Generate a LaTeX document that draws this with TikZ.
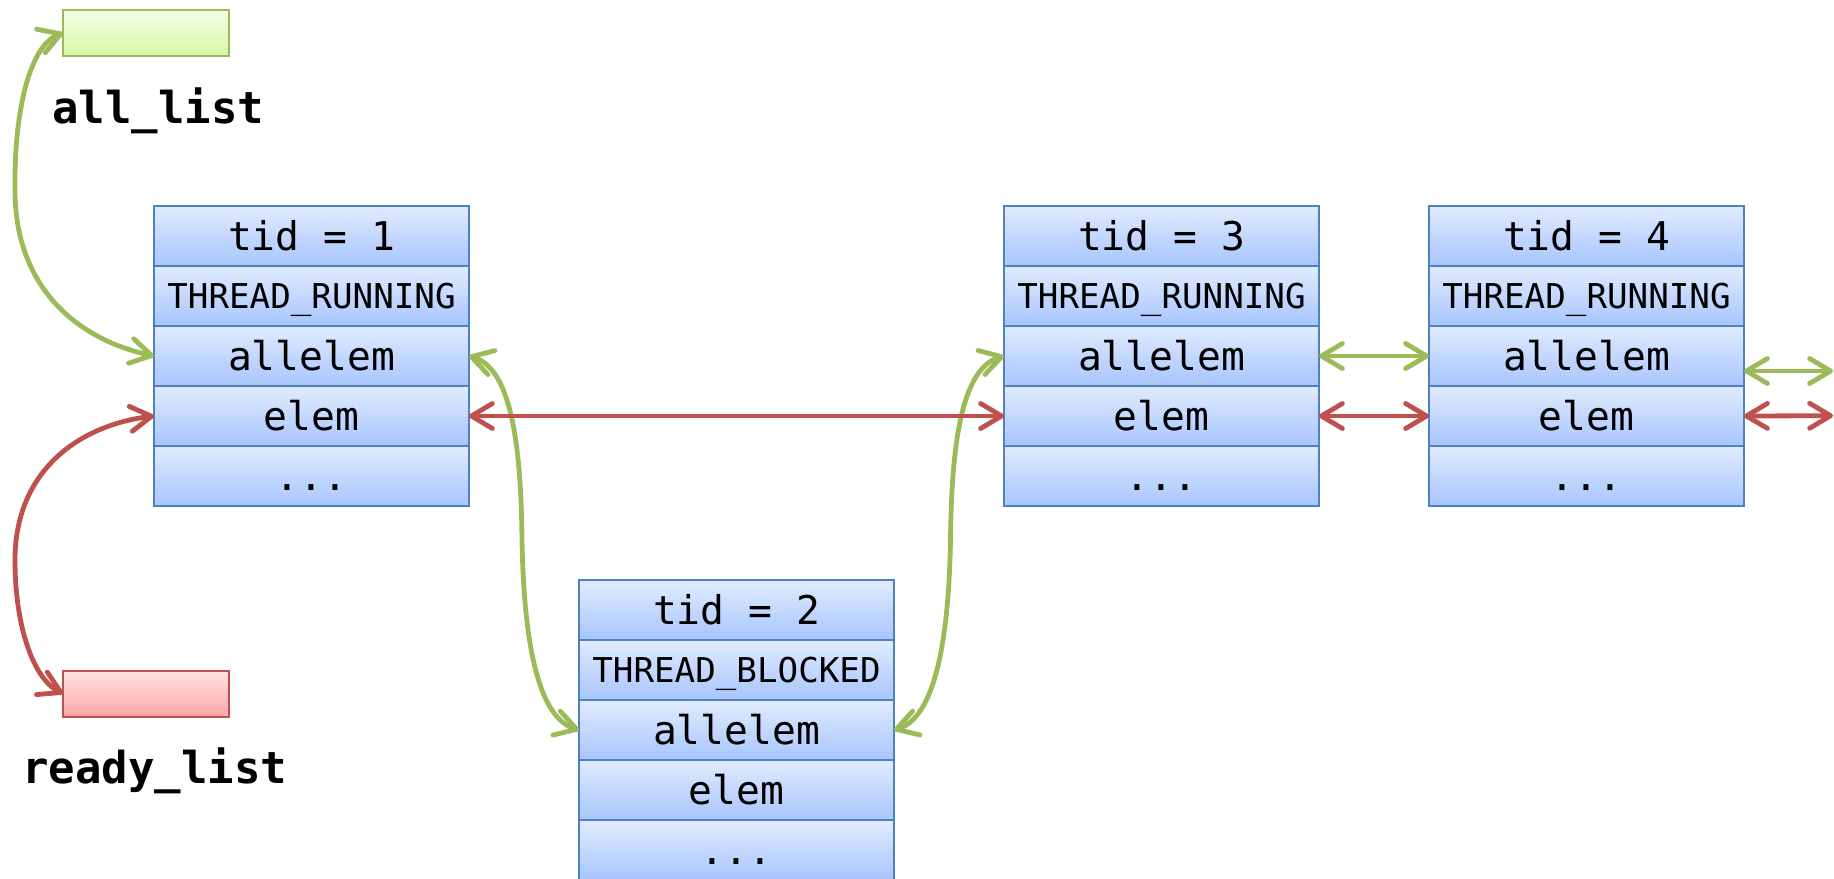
\documentclass[tikz,border=0pt]{standalone}
\usepackage{fontspec}
\usetikzlibrary{arrows.meta}
\newfontfamily\codefont{DejaVu Sans Mono}

\definecolor{boxblue}{HTML}{4F81BD}
\definecolor{rowtop}{HTML}{E1EBFF}
\definecolor{rowmid}{HTML}{CFE0FF}
\definecolor{rowbot}{HTML}{A7C5FD}
\definecolor{linkgreen}{HTML}{9BBB59}
\definecolor{linkred}{HTML}{C0504D}
\definecolor{gtop}{HTML}{F4FFE4}
\definecolor{gbot}{HTML}{D6F7A6}
\definecolor{rtop}{HTML}{FFE2E2}
\definecolor{rbot}{HTML}{FFA6A6}

\tikzset{
  row/.style={draw=boxblue, line width=1pt,
    top color=rowtop, middle color=rowmid, bottom color=rowbot,
    minimum width=157.5pt, minimum height=30pt,
    inner sep=0pt, outer sep=0pt, anchor=north,
    font=\codefont\fontsize{19.8}{24}\selectfont,
    text height=14pt, text depth=0pt},
  staterow/.style={row, font=\codefont\fontsize{17.1}{21}\selectfont,
    text height=12pt},
  headbox/.style={line width=1pt, minimum width=83pt, minimum height=23pt,
    inner sep=0pt, outer sep=0pt},
  listlabel/.style={font=\codefont\bfseries\fontsize{22}{26}\selectfont,
    anchor=base west, inner sep=0pt},
  tip/.tip={Straight Barb[length=10.5pt,width=12.5pt,round]},
  glink/.style={draw=linkgreen, line width=2.4pt, {tip}-{tip}},
  rlink/.style={draw=linkred, line width=2.4pt, {tip}-{tip}}
}

% one thread struct: name, centre x, top y, tid, state
\newcommand\threadstruct[5]{%
  \node[row] (#1-tid) at (#2,#3) {tid = #4};
  \node[staterow] (#1-st) at (#1-tid.south) {#5};
  \node[row] (#1-all) at (#1-st.south) {allelem};
  \node[row] (#1-elem) at (#1-all.south) {elem};
  \node[row] (#1-dots) at (#1-elem.south) {...};
}

\begin{document}
\begin{tikzpicture}[x=0.5pt, y=-0.5pt]
  \useasboundingbox (0,0) rectangle (1834,878);

  % list heads
  \node[headbox, draw=linkgreen, top color=gtop, bottom color=gbot]
    (allhead) at (146,33) {};
  \node[listlabel] (alllabel) at (52,123) {all\_list};
  \node[headbox, draw=linkred, top color=rtop, bottom color=rbot]
    (readyhead) at (146,693.5) {};
  \node[listlabel] (readylabel) at (22,783) {ready\_list};

  % threads
  \threadstruct{t1}{311.5}{206}{1}{THREAD\_RUNNING}
  \threadstruct{t2}{736.5}{580}{2}{THREAD\_BLOCKED}
  \threadstruct{t3}{1161.5}{206}{3}{THREAD\_RUNNING}
  \threadstruct{t4}{1586.5}{206}{4}{THREAD\_RUNNING}

  \coordinate (gout) at (1833,371);
  \coordinate (rout) at (1833,415.7);

  % all_list chain
  \draw[glink] (allhead.west) .. controls (30,45) and (14,110) .. (15,190)
    .. controls (15,290) and (80,340) .. (t1-all.west);
  \draw[glink] (t1-all.east) .. controls (510,368) and (521,440) .. (522,540)
    .. controls (524,650) and (540,718) .. (t2-all.west);
  \draw[glink] (t2-all.east) .. controls (932.5,718) and (948.5,650) .. (950.5,540)
    .. controls (951.5,440) and (962.5,368) .. (t3-all.west);
  \draw[glink] (t3-all.east) -- (t4-all.west);
  \draw[glink] ([yshift=-7.5pt]t4-all.east) -- (gout);

  % ready_list chain
  \draw[rlink] (readyhead.west) .. controls (35,680) and (15,630) .. (15,560)
    .. controls (15,470) and (80,425) .. (t1-elem.west);
  \draw[rlink] (t1-elem.east) -- (t3-elem.west);
  \draw[rlink] (t3-elem.east) -- (t4-elem.west);
  \draw[rlink] (t4-elem.east) -- (rout);
\end{tikzpicture}
\end{document}
